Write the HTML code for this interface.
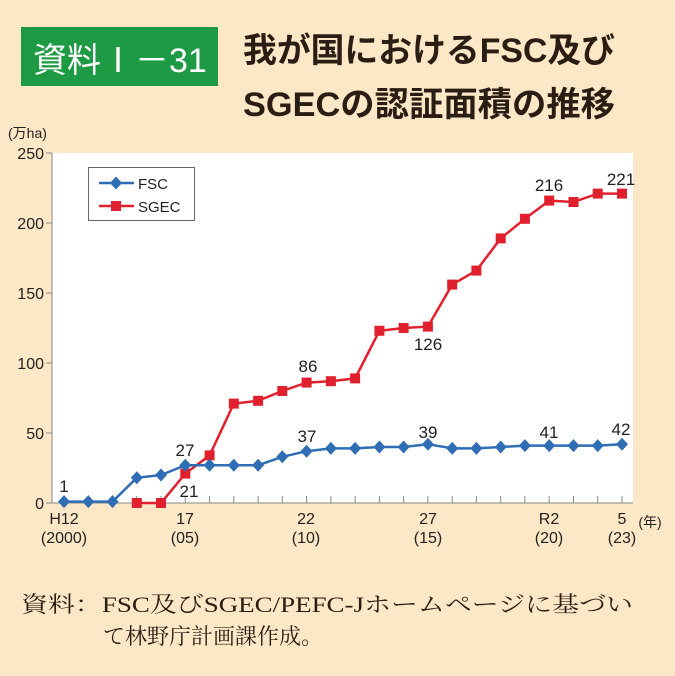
<!DOCTYPE html>
<html><head><meta charset="utf-8"><style>
body{margin:0;width:675px;height:671px;background:#fce8c6;overflow:hidden}
svg text{font-family:"Liberation Sans","Noto Sans CJK JP",sans-serif}
svg text.ser{font-family:"Liberation Serif","Noto Serif CJK SC",serif}
</style></head><body>
<svg width="675" height="671" xmlns="http://www.w3.org/2000/svg">
<defs>
<polygon id="d" points="0,-6.5 6,0 0,6.5 -6,0" fill="#2f6db5"/>
<rect id="s" x="-5" y="-5" width="10" height="10" fill="#e0202c"/>
</defs>
<rect width="675" height="671" fill="#fce8c6"/>
<rect x="21" y="27" width="197" height="59" fill="#1e9a45"/>
<text x="33" y="72" font-size="34" fill="#fff">資料Ⅰ－31</text>
<text x="243" y="62" font-size="34" font-weight="bold" fill="#2a1e14" textLength="372" lengthAdjust="spacingAndGlyphs">我が国におけるFSC及び</text>
<text x="243" y="116" font-size="34" font-weight="bold" fill="#2a1e14" textLength="372" lengthAdjust="spacingAndGlyphs">SGECの認証面積の推移</text>
<text x="8" y="138" font-size="14" fill="#222">(万ha)</text>
<rect x="52" y="153" width="581" height="350" fill="#fff"/>
<g stroke="#888" stroke-width="1">
<line x1="52" y1="153" x2="52" y2="503"/><line x1="52" y1="503" x2="633" y2="503"/>
<line x1="46" y1="153" x2="52" y2="153"/><line x1="46" y1="223" x2="52" y2="223"/><line x1="46" y1="293" x2="52" y2="293"/><line x1="46" y1="363" x2="52" y2="363"/><line x1="46" y1="433" x2="52" y2="433"/><line x1="46" y1="503" x2="52" y2="503"/>
<path d="M64 503v-7M88.3 503v-7M112.5 503v-7M136.8 503v-7M161 503v-7M185.3 503v-7M209.6 503v-7M233.8 503v-7M258.1 503v-7M282.3 503v-7M306.6 503v-7M330.9 503v-7M355.1 503v-7M379.4 503v-7M403.6 503v-7M427.9 503v-7M452.2 503v-7M476.4 503v-7M500.7 503v-7M524.9 503v-7M549.2 503v-7M573.5 503v-7M597.7 503v-7M622 503v-7"/>
</g>
<g font-size="16" fill="#222" text-anchor="end">
<text x="44" y="159">250</text><text x="44" y="229">200</text><text x="44" y="299">150</text><text x="44" y="369">100</text><text x="44" y="439">50</text><text x="44" y="509">0</text>
</g>
<g font-size="16" fill="#222" text-anchor="middle">
<text x="64" y="524">H12</text><text x="64" y="543">(2000)</text>
<text x="185" y="524">17</text><text x="185" y="543">(05)</text>
<text x="306" y="524">22</text><text x="306" y="543">(10)</text>
<text x="428" y="524">27</text><text x="428" y="543">(15)</text>
<text x="549" y="524">R2</text><text x="549" y="543">(20)</text>
<text x="622" y="524">5</text><text x="622" y="543">(23)</text>
<text x="650" y="527" font-size="14">(年)</text>
</g>
<polyline fill="none" stroke="#e0202c" stroke-width="2.5" points="136.8,503 161,503 185.3,473.6 209.6,455.4 233.8,403.6 258.1,400.8 282.3,391 306.6,382.6 330.9,381.2 355.1,378.4 379.4,330.8 403.6,328 427.9,326.6 452.2,284.6 476.4,270.6 500.7,238.4 524.9,218.8 549.2,200.6 573.5,202 597.7,193.6 622,193.6"/>
<g>
<use href="#s" x="136.8" y="503"/><use href="#s" x="161" y="503"/><use href="#s" x="185.3" y="473.6"/><use href="#s" x="209.6" y="455.4"/><use href="#s" x="233.8" y="403.6"/><use href="#s" x="258.1" y="400.8"/><use href="#s" x="282.3" y="391"/><use href="#s" x="306.6" y="382.6"/><use href="#s" x="330.9" y="381.2"/><use href="#s" x="355.1" y="378.4"/><use href="#s" x="379.4" y="330.8"/><use href="#s" x="403.6" y="328"/><use href="#s" x="427.9" y="326.6"/><use href="#s" x="452.2" y="284.6"/><use href="#s" x="476.4" y="270.6"/><use href="#s" x="500.7" y="238.4"/><use href="#s" x="524.9" y="218.8"/><use href="#s" x="549.2" y="200.6"/><use href="#s" x="573.5" y="202"/><use href="#s" x="597.7" y="193.6"/><use href="#s" x="622" y="193.6"/>
</g>
<polyline fill="none" stroke="#2f6db5" stroke-width="2.5" points="64,501.6 88.3,501.6 112.5,501.6 136.8,477.8 161,475 185.3,465.2 209.6,465.2 233.8,465.2 258.1,465.2 282.3,456.8 306.6,451.2 330.9,448.4 355.1,448.4 379.4,447 403.6,447 427.9,444.2 452.2,448.4 476.4,448.4 500.7,447 524.9,445.6 549.2,445.6 573.5,445.6 597.7,445.6 622,444.2"/>
<g>
<use href="#d" x="64" y="501.6"/><use href="#d" x="88.3" y="501.6"/><use href="#d" x="112.5" y="501.6"/><use href="#d" x="136.8" y="477.8"/><use href="#d" x="161" y="475"/><use href="#d" x="185.3" y="465.2"/><use href="#d" x="209.6" y="465.2"/><use href="#d" x="233.8" y="465.2"/><use href="#d" x="258.1" y="465.2"/><use href="#d" x="282.3" y="456.8"/><use href="#d" x="306.6" y="451.2"/><use href="#d" x="330.9" y="448.4"/><use href="#d" x="355.1" y="448.4"/><use href="#d" x="379.4" y="447"/><use href="#d" x="403.6" y="447"/><use href="#d" x="427.9" y="444.2"/><use href="#d" x="452.2" y="448.4"/><use href="#d" x="476.4" y="448.4"/><use href="#d" x="500.7" y="447"/><use href="#d" x="524.9" y="445.6"/><use href="#d" x="549.2" y="445.6"/><use href="#d" x="573.5" y="445.6"/><use href="#d" x="597.7" y="445.6"/><use href="#d" x="622" y="444.2"/>
</g>
<g font-size="17" fill="#222" text-anchor="middle">
<text x="64" y="492">1</text><text x="185" y="456">27</text><text x="189" y="497">21</text><text x="307" y="442">37</text><text x="308" y="372">86</text><text x="428" y="350">126</text><text x="428" y="438">39</text><text x="549" y="438">41</text><text x="549" y="191">216</text><text x="621" y="435">42</text><text x="621" y="185">221</text>
</g>
<rect x="88.5" y="167.5" width="106" height="53" fill="#fff" stroke="#666"/>
<line x1="99" y1="183" x2="134" y2="183" stroke="#2f6db5" stroke-width="2.5"/><use href="#d" x="116" y="183"/>
<text x="138" y="189" font-size="15" fill="#222">FSC</text>
<line x1="99" y1="206" x2="134" y2="206" stroke="#e0202c" stroke-width="2.5"/><use href="#s" x="116" y="206"/>
<text x="138" y="212" font-size="15" fill="#222">SGEC</text>
<text class="ser" x="21" y="612" font-size="22" fill="#2a1e14" textLength="612" lengthAdjust="spacingAndGlyphs">資料：FSC及びSGEC/PEFC-Jホームページに基づい</text>
<text class="ser" x="103" y="644" font-size="22" fill="#2a1e14">て林野庁計画課作成。</text>
</svg>
</body></html>
